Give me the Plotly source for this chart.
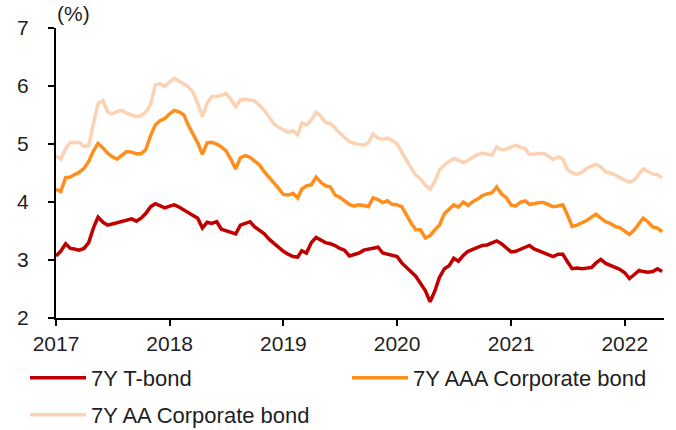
import plotly.graph_objects as go

# semi-monthly observation dates (1st and 16th), Jan 2017 - May 2022
dates = []
for yr in range(2017, 2023):
    for mo in range(1, 13):
        for dy in (1, 16):
            d = f"{yr}-{mo:02d}-{dy:02d}"
            if d <= "2022-05-01":
                dates.append(d)

t_bond = [
    3.07, 3.15, 3.28, 3.20, 3.19, 3.17, 3.20, 3.30, 3.55, 3.74, 3.65, 3.60,
    3.62, 3.64, 3.66, 3.69, 3.71, 3.67, 3.72, 3.80, 3.92, 3.97, 3.94, 3.90,
    3.93, 3.95, 3.91, 3.86, 3.82, 3.76, 3.72, 3.55, 3.65, 3.63, 3.66, 3.53,
    3.50, 3.48, 3.45, 3.60, 3.63, 3.66, 3.57, 3.52, 3.45, 3.36, 3.29, 3.22,
    3.15, 3.10, 3.06, 3.05, 3.16, 3.12, 3.30, 3.39, 3.35, 3.30, 3.28, 3.25,
    3.20, 3.17, 3.07, 3.09, 3.12, 3.17, 3.19, 3.21, 3.22, 3.12, 3.10, 3.07,
    3.06, 2.95, 2.87, 2.78, 2.72, 2.60, 2.47, 2.28, 2.46, 2.70, 2.85, 2.90,
    3.03, 2.98, 3.08, 3.15, 3.18, 3.22, 3.25, 3.26, 3.30, 3.33, 3.28, 3.22,
    3.14, 3.15, 3.19, 3.23, 3.25, 3.19, 3.16, 3.13, 3.09, 3.06, 3.10, 3.10,
    2.97, 2.85, 2.86, 2.85, 2.86, 2.87, 2.95, 3.01, 2.94, 2.91, 2.88, 2.84,
    2.78, 2.68, 2.75, 2.82, 2.80, 2.79, 2.80, 2.85, 2.80,
]

aaa_corp = [
    4.22, 4.18, 4.42, 4.43, 4.47, 4.51, 4.58, 4.70, 4.88, 5.01, 4.93, 4.84,
    4.78, 4.74, 4.81, 4.87, 4.86, 4.83, 4.83, 4.90, 5.15, 5.33, 5.40, 5.44,
    5.52, 5.58, 5.55, 5.50, 5.33, 5.18, 5.02, 4.82, 5.02, 5.03, 5.00, 4.95,
    4.88, 4.74, 4.57, 4.76, 4.80, 4.77, 4.70, 4.64, 4.52, 4.43, 4.34, 4.24,
    4.13, 4.12, 4.15, 4.07, 4.22, 4.28, 4.30, 4.43, 4.34, 4.28, 4.26, 4.12,
    4.08, 4.02, 3.96, 3.93, 3.95, 3.94, 3.92, 4.07, 4.04, 3.99, 4.02, 3.96,
    3.95, 3.92, 3.76, 3.63, 3.52, 3.52, 3.38, 3.42, 3.52, 3.60, 3.80, 3.87,
    3.95, 3.91, 4.00, 3.94, 4.01, 4.05, 4.11, 4.14, 4.16, 4.26, 4.14, 4.08,
    3.95, 3.93, 4.00, 4.02, 3.96, 3.97, 3.99, 3.99, 3.96, 3.92, 3.93, 3.95,
    3.78, 3.58, 3.60, 3.64, 3.68, 3.74, 3.79, 3.72, 3.66, 3.63, 3.58, 3.56,
    3.50, 3.44, 3.52, 3.62, 3.72, 3.66, 3.57, 3.55, 3.49,
]

aa_corp = [
    4.80, 4.74, 4.92, 5.03, 5.02, 5.03, 4.96, 4.97, 5.35, 5.70, 5.75, 5.55,
    5.52, 5.56, 5.58, 5.53, 5.50, 5.47, 5.49, 5.55, 5.68, 6.02, 6.04, 5.99,
    6.07, 6.13, 6.08, 6.04, 5.99, 5.90, 5.70, 5.47, 5.70, 5.82, 5.82, 5.84,
    5.87, 5.77, 5.64, 5.76, 5.77, 5.76, 5.74, 5.67, 5.58, 5.47, 5.35, 5.29,
    5.25, 5.20, 5.23, 5.16, 5.36, 5.33, 5.41, 5.55, 5.48, 5.37, 5.35, 5.28,
    5.19, 5.12, 5.04, 5.01, 4.99, 4.98, 5.02, 5.17, 5.10, 5.08, 5.10, 5.06,
    5.00, 4.86, 4.70, 4.58, 4.46, 4.40, 4.29, 4.22, 4.35, 4.55, 4.64, 4.70,
    4.75, 4.72, 4.68, 4.72, 4.78, 4.82, 4.84, 4.82, 4.81, 4.95, 4.90, 4.91,
    4.95, 4.98, 4.94, 4.92, 4.82, 4.83, 4.84, 4.84, 4.79, 4.73, 4.78, 4.74,
    4.56, 4.50, 4.48, 4.51, 4.58, 4.61, 4.65, 4.60, 4.52, 4.50, 4.47, 4.42,
    4.38, 4.34, 4.38, 4.47, 4.57, 4.53, 4.48, 4.47, 4.42,
]

series_names = ["7Y T-bond", "7Y AAA Corporate bond", "7Y AA Corporate bond"]
series_colors = ["#C00000", "#FF8F1C", "#FCD2B4"]
year_ticks = ["2017", "2018", "2019", "2020", "2021", "2022"]
y_ticks = [2, 3, 4, 5, 6, 7]

FONT = "Liberation Sans, Arial, sans-serif"
TXT = "#1f1f1f"

fig = go.Figure()
# draw AA first (back), then AAA, then T-bond on top
order = [(2, aa_corp, "legend2"), (1, aaa_corp, "legend"), (0, t_bond, "legend")]
for idx, vals, lg in order:
    fig.add_trace(go.Scatter(
        x=dates, y=vals, mode="lines", name=series_names[idx],
        line=dict(color=series_colors[idx], width=3.5),
        legend=lg, legendrank=idx,
    ))

LEG_X = (25 - 56) / 608
fig.update_layout(
    width=676, height=430,
    margin=dict(l=56, r=12, t=28, b=112, autoexpand=False),
    paper_bgcolor="white", plot_bgcolor="white",
    font=dict(family=FONT, size=21, color=TXT),
    showlegend=True,
    legend=dict(
        orientation="h", xref="paper", yref="paper",
        x=LEG_X, y=(318 - 378) / 290, xanchor="left", yanchor="middle",
        entrywidth=251, entrywidthmode="pixels", itemwidth=56,
        traceorder="normal",
        font=dict(family=FONT, size=22, color=TXT),
        bgcolor="rgba(0,0,0,0)",
    ),
    legend2=dict(
        orientation="h", xref="paper", yref="paper",
        x=LEG_X, y=(318 - 415) / 290, xanchor="left", yanchor="middle",
        itemwidth=56,
        font=dict(family=FONT, size=22, color=TXT),
        bgcolor="rgba(0,0,0,0)",
    ),
    xaxis=dict(
        type="date", range=["2017-01-01", "2022-05-07"],
        tickvals=[f"{y}-01-01" for y in year_ticks], ticktext=year_ticks,
        ticks="outside", ticklen=6, tickwidth=1.5, tickcolor="black",
        showline=True, linecolor="black", linewidth=2,
        showgrid=False, zeroline=False, automargin=False,
        tickfont=dict(family=FONT, size=21, color=TXT),
    ),
    yaxis=dict(
        range=[2, 7], tickvals=y_ticks,
        ticks="outside", ticklen=6, tickwidth=1.5, tickcolor="black",
        showline=True, linecolor="black", linewidth=2,
        showgrid=False, zeroline=False, automargin=False,
        ticklabelstandoff=15,
        tickfont=dict(family=FONT, size=21, color=TXT),
    ),
    annotations=[dict(
        text="(%)", xref="paper", yref="paper",
        x=(73 - 56) / 608, y=1 + 15 / 290, xanchor="center", yanchor="middle",
        showarrow=False, font=dict(family=FONT, size=21, color=TXT),
    )],
)

fig.write_html(
    "out.html",
    config={"displayModeBar": False},
    post_script="document.body.style.margin='0';",
)
